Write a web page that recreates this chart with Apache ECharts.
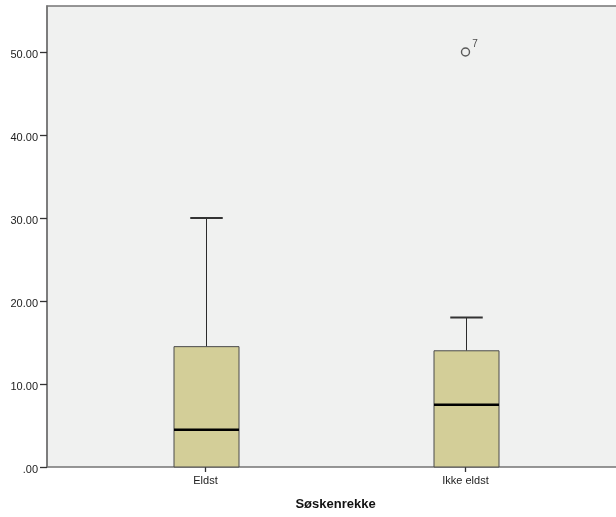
<!DOCTYPE html>
<html>
<head>
    <meta charset="utf-8">
    <title>Søskenrekke boxplot</title>
    <script src="https://cdn.jsdelivr.net/npm/echarts@6/dist/echarts.min.js"></script>
</head>
<body style="margin:0;background:#fff;">
    <div id="main" style="width:616px;height:517px;"></div>
    <script type="text/javascript">
        // data
        var categories = ['Eldst', 'Ikke eldst'];
        var lowWhisker = [0, 0];
        var q1 = [0, 0];
        var median = [4.5, 7.5];
        var q3 = [14.5, 14];
        var highWhisker = [30, 18];
        var outliers = [[1, 50, '7']];   // [category index, value, case label]
        var yTicks = [0, 10, 20, 30, 40, 50];

        var boxData = categories.map(function (c, i) {
            return [i, lowWhisker[i], q1[i], median[i], q3[i], highWhisker[i]];
        });

        var myChart = echarts.init(document.getElementById('main'));

        var font = 'Liberation Sans, Arial, sans-serif';

        function renderBox(params, api) {
            var x = api.value(0);
            var pMin = api.coord([x, api.value(1)]);
            var pQ1 = api.coord([x, api.value(2)]);
            var pMed = api.coord([x, api.value(3)]);
            var pQ3 = api.coord([x, api.value(4)]);
            var pMax = api.coord([x, api.value(5)]);
            var bw = api.size([1, 0])[0] * 0.25;
            var cx = Math.round(pQ1[0]) + 0.5;
            var half = bw / 2, cap = bw / 4;
            var kids = [];
            // whiskers
            if (api.value(5) > api.value(4)) {
                kids.push({type: 'line', shape: {x1: cx, y1: pQ3[1], x2: cx, y2: pMax[1]},
                    style: {stroke: '#2b2b2b', lineWidth: 1}});
                kids.push({type: 'line', shape: {x1: cx - cap, y1: pMax[1], x2: cx + cap, y2: pMax[1]},
                    style: {stroke: '#333', lineWidth: 2}});
            }
            if (api.value(1) < api.value(2)) {
                kids.push({type: 'line', shape: {x1: cx, y1: pQ1[1], x2: cx, y2: pMin[1]},
                    style: {stroke: '#2b2b2b', lineWidth: 1}});
                kids.push({type: 'line', shape: {x1: cx - cap, y1: pMin[1], x2: cx + cap, y2: pMin[1]},
                    style: {stroke: '#333', lineWidth: 2}});
            }
            // box
            kids.push({type: 'rect',
                shape: {x: cx - half, y: pQ3[1], width: bw, height: pQ1[1] - pQ3[1]},
                style: {fill: '#D3CE98', stroke: '#4a4a4a', lineWidth: 1}});
            // median
            kids.push({type: 'line', shape: {x1: cx - half, y1: pMed[1], x2: cx + half, y2: pMed[1]},
                style: {stroke: '#000', lineWidth: 2.5}});
            return {type: 'group', children: kids};
        }

        var option = {
            backgroundColor: '#fff',
            animation: false,
            grid: [
                {   // plot frame with background, right edge runs off the canvas
                    left: 47, width: 590, top: 6, bottom: 50,
                    outerBoundsMode: 'none',
                    show: true, backgroundColor: '#F0F1F0',
                    borderColor: '#747474', borderWidth: 1.5
                },
                {   // category layout for the boxes
                    left: 75.5, width: 520, top: 6, bottom: 50,
                    outerBoundsMode: 'none'
                }
            ],
            xAxis: [
                {gridIndex: 0, type: 'value', min: 0, max: 1, show: false},
                {
                    gridIndex: 1, type: 'category', data: categories,
                    axisLine: {show: false},
                    axisTick: {show: true, alignWithLabel: true, length: 5,
                        lineStyle: {color: '#333', width: 1.3}},
                    axisLabel: {color: '#222', fontSize: 11, fontFamily: font, margin: 8},
                    splitLine: {show: false},
                    name: 'Søskenrekke', nameLocation: 'middle', nameGap: 31,
                    nameTextStyle: {color: '#111', fontSize: 13, fontWeight: 'bold', fontFamily: font}
                }
            ],
            yAxis: [
                {
                    gridIndex: 0, type: 'value', min: 0, max: 55.54, interval: 10,
                    axisLine: {show: true, lineStyle: {color: '#747474', width: 1.5}},
                    axisTick: {show: true, length: 7, lineStyle: {color: '#333', width: 1.3},
                        customValues: yTicks},
                    axisLabel: {color: '#222', fontSize: 11, fontFamily: font, margin: 9,
                        verticalAlign: 'top', lineHeight: 5,
                        customValues: yTicks,
                        formatter: function (v) {
                            return v === 0 ? '.00' : v.toFixed(2);
                        }},
                    splitLine: {show: false}
                },
                {gridIndex: 1, type: 'value', min: 0, max: 55.54, show: false}
            ],
            series: [
                {
                    name: 'box', type: 'custom', xAxisIndex: 1, yAxisIndex: 1,
                    renderItem: renderBox,
                    encode: {x: 0, y: [1, 2, 3, 4, 5]},
                    data: boxData
                },
                {
                    name: 'outlier', type: 'scatter', xAxisIndex: 1, yAxisIndex: 1,
                    symbol: 'circle', symbolSize: 8,
                    itemStyle: {color: '#F0F1F0', borderColor: '#333', borderWidth: 1.4},
                    label: {
                        show: true, position: 'right', offset: [-3, -8],
                        formatter: function (p) { return p.data[2]; },
                        color: '#222', fontSize: 10, fontFamily: font
                    },
                    data: outliers
                }
            ]
        };

        myChart.setOption(option);
    </script>
</body>
</html>
